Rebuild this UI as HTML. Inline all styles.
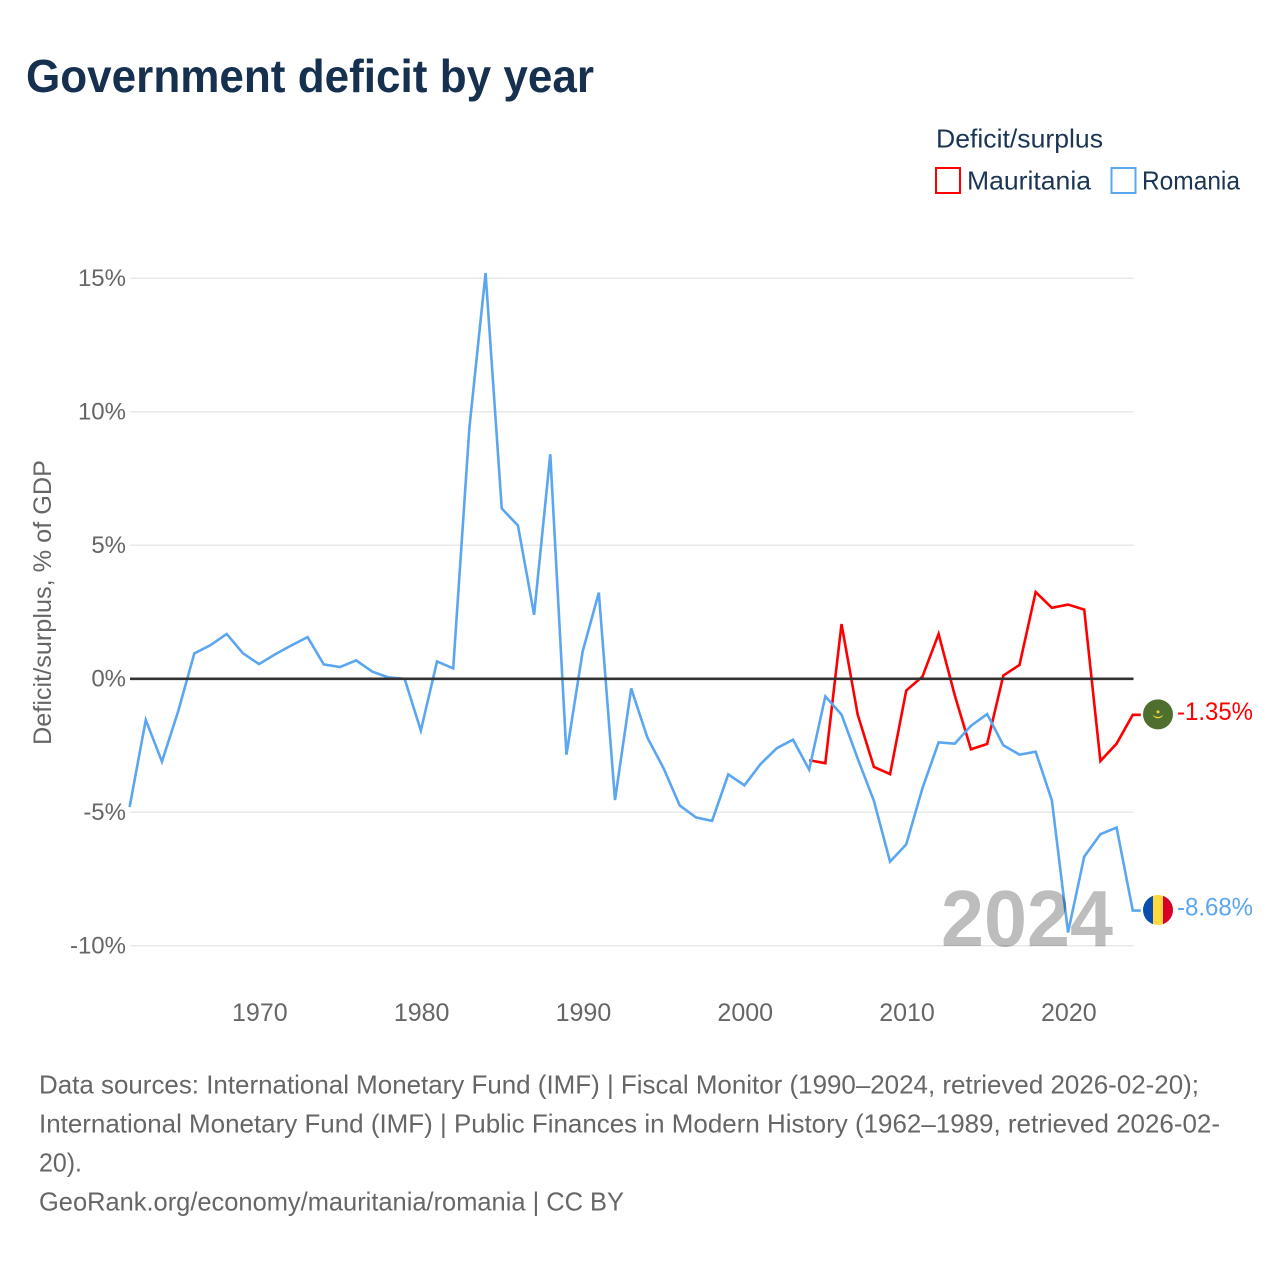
<!DOCTYPE html>
<html lang="en">
<head>
<meta charset="utf-8">
<title>Government deficit by year</title>
<style>
  html, body { margin: 0; padding: 0; background: #fff; }
  svg { display: block; font-family: "Liberation Sans", Arial, sans-serif; }
</style>
</head>
<body>
<svg id="chart" xmlns="http://www.w3.org/2000/svg" width="1280" height="1280" viewBox="0 0 1280 1280">
  <rect x="0" y="0" width="1280" height="1280" fill="#ffffff"/>
  <text x="26" y="92" font-size="46" font-weight="700" fill="#16304f" textLength="568" lengthAdjust="spacingAndGlyphs">Government deficit by year</text>

  <g>
    <text x="936" y="147.500" font-size="26" fill="#1b3555" textLength="167" lengthAdjust="spacingAndGlyphs">Deficit/surplus</text>
    <g>
      <rect x="936" y="168" width="24" height="25" fill="none" stroke="#ff0000" stroke-width="2"/>
      <text x="967" y="189.500" font-size="26" fill="#1b3555" textLength="124" lengthAdjust="spacingAndGlyphs">Mauritania</text>
    </g>
    <g>
      <rect x="1111.500" y="168" width="24" height="25" fill="none" stroke="#5ba6f0" stroke-width="2"/>
      <text x="1142" y="189.500" font-size="26" fill="#1b3555" textLength="98" lengthAdjust="spacingAndGlyphs">Romania</text>
    </g>
  </g>

  <text transform="translate(51,745) rotate(-90)" font-size="25" fill="#666666" textLength="285" lengthAdjust="spacingAndGlyphs">Deficit/surplus, % of GDP</text>

  <g id="grid"></g>
  <g id="y-ticks"></g>
  <g id="x-ticks"></g>
  <g id="series"></g>
  <g id="zero"></g>

  <text x="941" y="946" font-size="80" font-weight="700" fill="#000000" fill-opacity="0.26" textLength="172" lengthAdjust="spacingAndGlyphs">2024</text>

  <defs>
    <clipPath id="flag-clip-ro"><circle id="ro-clip-circle" cx="1158" cy="910" r="15"/></clipPath>
  </defs>
  <g id="flag-mr">
    <circle cx="0" cy="0" r="15" fill="#4f6f2f"/>
    <path d="M-5.500 0 A5.800 5.800 0 0 0 5.500 0 A7 7 0 0 1 -5.500 0 Z" fill="#f5d33f"/>
    <circle cx="0" cy="-2.500" r="1.500" fill="#f5d33f"/>
  </g>
  <g id="flag-ro" clip-path="url(#flag-clip-ro)">
    <rect x="1143" y="895" width="10" height="30" fill="#0a4fb0"/>
    <rect x="1153" y="895" width="10" height="30" fill="#ffd83d"/>
    <rect x="1163" y="895" width="10" height="30" fill="#d80027"/>
  </g>
  <g id="end-labels"></g>

  <g font-size="26" fill="#666666">
    <text x="39" y="1093.500" textLength="1160" lengthAdjust="spacingAndGlyphs">Data sources: International Monetary Fund (IMF) | Fiscal Monitor (1990–2024, retrieved 2026-02-20);</text>
    <text x="39" y="1132.500" textLength="1181" lengthAdjust="spacingAndGlyphs">International Monetary Fund (IMF) | Public Finances in Modern History (1962–1989, retrieved 2026-02-</text>
    <text x="39" y="1171.500" textLength="43" lengthAdjust="spacingAndGlyphs">20).</text>
    <text x="39" y="1210.500" textLength="585" lengthAdjust="spacingAndGlyphs">GeoRank.org/economy/mauritania/romania | CC BY</text>
  </g>
</svg>

<script>
const romaniaStartYear = 1962;
const mauritaniaStartYear = 2004;
const romaniaValues = [
  -4.80, -1.54, -3.10, -1.22, 0.95, 1.26, 1.68, 0.96, 0.55, 0.92,
  1.25, 1.56, 0.54, 0.44, 0.69, 0.27, 0.05, 0.00, -1.94, 0.65,
  0.39, 9.40, 15.20, 6.38, 5.74, 2.40, 8.41, -2.84, 1.02, 3.23,
  -4.54, -0.36, -2.20, -3.35, -4.74, -5.19, -5.32, -3.58, -3.99, -3.19,
  -2.60, -2.28, -3.40, -0.66, -1.34, -2.99, -4.57, -6.85, -6.20, -4.10,
  -2.38, -2.43, -1.76, -1.32, -2.49, -2.84, -2.73, -4.55, -9.50, -6.66,
  -5.82, -5.57, -8.68
];
const mauritaniaValues = [
  -3.05, -3.16, 2.05, -1.34, -3.30, -3.57, -0.44, 0.08, 1.68, -0.62,
  -2.64, -2.44, 0.12, 0.52, 3.25, 2.66, 2.78, 2.59, -3.08, -2.43, -1.35
];
const yTickValues = [15, 10, 5, 0, -5, -10];
const xTickYears = [1970, 1980, 1990, 2000, 2010, 2020];

const NS = 'http://www.w3.org/2000/svg';
const RED = '#ff0000';
const BLUE = '#5ba6f0';
const xScale = function (year) { return 129.6 + (year - 1962) * 16.18; };
const yScale = function (value) { return 678.8 - value * 26.7; };
const PLOT_LEFT = 130;
const PLOT_RIGHT = 1133.5;

function make(tag, attrs, parent) {
  const el = document.createElementNS(NS, tag);
  Object.keys(attrs).forEach(function (k) { el.setAttribute(k, attrs[k]); });
  parent.appendChild(el);
  return el;
}

const gridGroup = document.getElementById('grid');
const yTickGroup = document.getElementById('y-ticks');
yTickValues.forEach(function (v) {
  if (v !== 0) {
    const gridLine = make('line', { x1: PLOT_LEFT, x2: PLOT_RIGHT, y1: yScale(v), y2: yScale(v), stroke: '#e8e8e8', 'stroke-width': 1.5 }, gridGroup);
    
    
  }
  const yLabel = make('text', { x: 126, y: yScale(v) + 7.8, 'text-anchor': 'end', 'font-size': 24, fill: '#666666' }, yTickGroup);
  yLabel.textContent = v + '%';
  
  
});

const xTickGroup = document.getElementById('x-ticks');
xTickYears.forEach(function (year) {
  const xLabel = make('text', { x: xScale(year) + 0.8, y: 1021, 'text-anchor': 'middle', 'font-size': 25, fill: '#666666' }, xTickGroup);
  xLabel.textContent = String(year);
  
  
});

function linePath(values, startYear) {
  let d = '';
  values.forEach(function (v, i) {
    d += (i === 0 ? 'M' : 'L') + xScale(startYear + i).toFixed(2) + ' ' + yScale(v).toFixed(2) + ' ';
  });
  const last = values[values.length - 1];
  d += 'L' + (xScale(startYear + values.length - 1) + 8).toFixed(2) + ' ' + yScale(last).toFixed(2);
  return d;
}

const seriesGroup = document.getElementById('series');
const mauritaniaLine = make('path', { d: linePath(mauritaniaValues, mauritaniaStartYear), fill: 'none', stroke: RED, 'stroke-width': 2.6, 'stroke-linejoin': 'miter' }, seriesGroup);


const romaniaLine = make('path', { d: linePath(romaniaValues, romaniaStartYear), fill: 'none', stroke: BLUE, 'stroke-width': 2.6, 'stroke-linejoin': 'miter' }, seriesGroup);



const zeroLine = make('line', { x1: PLOT_LEFT, x2: PLOT_RIGHT, y1: yScale(0), y2: yScale(0), stroke: '#333333', 'stroke-width': 2.6 }, document.getElementById('zero'));



const mauritaniaLast = mauritaniaValues[mauritaniaValues.length - 1];
const romaniaLast = romaniaValues[romaniaValues.length - 1];
const flagX = 1158;
document.getElementById('flag-mr').setAttribute('transform', 'translate(' + flagX + ',' + (yScale(mauritaniaLast) - 0.5) + ')');
const roOffset = yScale(romaniaLast) - 0.6 - 910;
document.getElementById('flag-ro').setAttribute('transform', 'translate(0,' + roOffset + ')');

const endGroup = document.getElementById('end-labels');
const mauritaniaLabel = make('text', { x: 1177, y: yScale(mauritaniaLast) + 5, 'font-size': 25, fill: RED, textLength: 76, lengthAdjust: 'spacingAndGlyphs' }, endGroup);
mauritaniaLabel.textContent = mauritaniaLast.toFixed(2) + '%';


const romaniaLabel = make('text', { x: 1177, y: yScale(romaniaLast) + 5, 'font-size': 25, fill: BLUE, textLength: 76, lengthAdjust: 'spacingAndGlyphs' }, endGroup);
romaniaLabel.textContent = romaniaLast.toFixed(2) + '%';


</script>
</body>
</html>
